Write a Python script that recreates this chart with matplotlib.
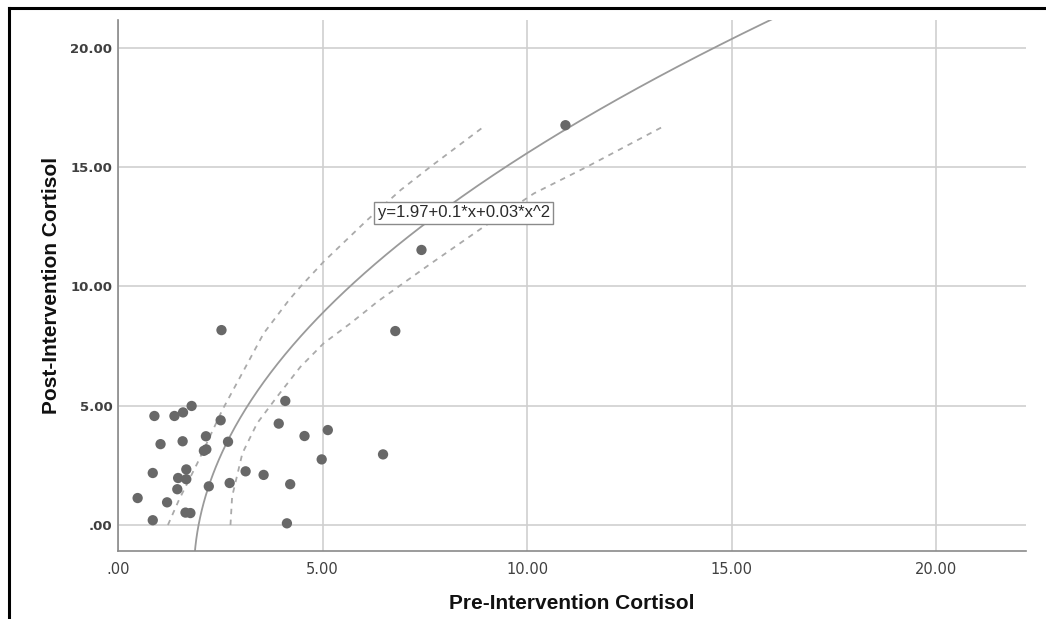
import numpy as np
import matplotlib
matplotlib.use("Agg")
import matplotlib.pyplot as plt
from matplotlib.lines import Line2D
from matplotlib.ticker import FuncFormatter

# ---- data ----
pre = [0.89, 1.38, 1.59, 1.80, 2.51, 4.09, 3.93, 5.13, 4.56, 1.04, 1.58, 2.15,
       2.69, 2.10, 2.16, 4.98, 0.85, 1.67, 1.47, 1.67, 3.12, 3.56, 4.21, 2.22,
       2.73, 1.45, 0.48, 1.20, 1.65, 1.77, 0.85, 4.13, 2.53, 6.78, 7.42, 10.94,
       6.48]
post = [4.57, 4.57, 4.72, 4.99, 4.39, 5.20, 4.25, 3.98, 3.73, 3.39, 3.51, 3.72,
        3.49, 3.11, 3.17, 2.75, 2.18, 2.33, 1.97, 1.92, 2.25, 2.10, 1.71, 1.62,
        1.76, 1.50, 1.13, 0.95, 0.52, 0.50, 0.20, 0.07, 8.17, 8.13, 11.53, 16.76,
        2.96]

# quadratic fit (drawn as x = c0 + c1*y + c2*y^2)
fit_coef = [1.97, 0.11, 0.026]
fit_label = "y=1.97+0.1*x+0.03*x^2"

# confidence band boundaries
band_lo_y = [0.0, 1.05, 2.59, 4.82, 6.50, 8.03, 9.43, 9.99, 11.04, 12.78, 14.04, 15.02, 16.76]
band_lo_x = [1.22, 1.49, 1.94, 2.55, 3.08, 3.56, 4.18, 4.46, 5.03, 6.09, 6.91, 7.64, 8.99]
band_hi_y = [0.0, 1.19, 3.00, 4.26, 5.38, 6.63, 7.62, 8.45, 9.01, 9.36, 10.90, 12.50, 13.90, 15.02, 16.76]
band_hi_x = [2.75, 2.79, 3.04, 3.40, 3.89, 4.46, 5.03, 5.68, 6.09, 6.34, 7.60, 8.94, 10.17, 11.47, 13.39]

x_ticks = [0, 5, 10, 15, 20]
y_ticks = [0, 5, 10, 15, 20]

# ---- figure ----
fig = plt.figure(figsize=(10.46, 6.19), dpi=100)
ax = fig.add_axes([118 / 1046, 1 - 551 / 619, (1026 - 118) / 1046, (551 - 20) / 619])

ax.set_xlim(0, 22.2)
ax.set_ylim(-1.09, 21.17)

ax.set_xticks(x_ticks)
ax.set_yticks(y_ticks)
fmt = FuncFormatter(lambda v, p: ".00" if abs(v) < 1e-9 else f"{v:.2f}")
ax.xaxis.set_major_formatter(fmt)
ax.yaxis.set_major_formatter(fmt)

ax.grid(True, color="#cfcfcf", linewidth=1.2, zorder=0)
ax.set_axisbelow(True)
for s in ["top", "right"]:
    ax.spines[s].set_visible(False)
for s in ["left", "bottom"]:
    ax.spines[s].set_color("#8a8a8a")
    ax.spines[s].set_linewidth(1.2)

ax.tick_params(axis="both", length=0)
ax.tick_params(axis="y", pad=4, labelsize=9.5, labelcolor="#404040")
ax.tick_params(axis="x", pad=8, labelsize=10.5, labelcolor="#404040")
for lab in ax.get_yticklabels():
    lab.set_fontweight("bold")

# fit curve
yy = np.linspace(-1.2, 21.5, 300)
xx = fit_coef[0] + fit_coef[1] * yy + fit_coef[2] * yy ** 2
ax.plot(xx, yy, color="#9a9a9a", linewidth=1.3, zorder=2)

# confidence bands
ax.plot(band_lo_x, band_lo_y, color="#aaaaaa", linewidth=1.3, linestyle=(0, (3, 3)), zorder=2)
ax.plot(band_hi_x, band_hi_y, color="#aaaaaa", linewidth=1.3, linestyle=(0, (3, 3)), zorder=2)

# points
ax.scatter(pre, post, s=55, color="#686868", edgecolors="none", zorder=3)

# equation label
ax.text(8.45, 13.08, fit_label, ha="center", va="center", fontsize=12,
        family=["Liberation Sans", "DejaVu Sans"], color="#2a2a2a", zorder=4,
        bbox=dict(boxstyle="square,pad=0.2", fc="white", ec="#8a8a8a", lw=1.0))

label_font = ["Liberation Sans", "DejaVu Sans"]
ax.set_xlabel("Pre-Intervention Cortisol", fontsize=15, fontweight="bold",
              family=label_font, color="#111111", labelpad=12)
ax.set_ylabel("Post-Intervention Cortisol", fontsize=15, fontweight="bold",
              family=label_font, color="#111111", labelpad=7)

# frame lines of the screenshot
fig.add_artist(Line2D([9 / 1046, 1.0], [1 - 7.5 / 619, 1 - 7.5 / 619],
                      transform=fig.transFigure, color="black", linewidth=2.2))
fig.add_artist(Line2D([9 / 1046, 9 / 1046], [0.0, 1 - 7.5 / 619],
                      transform=fig.transFigure, color="black", linewidth=2.2))

fig.savefig("out.png", dpi=100)
